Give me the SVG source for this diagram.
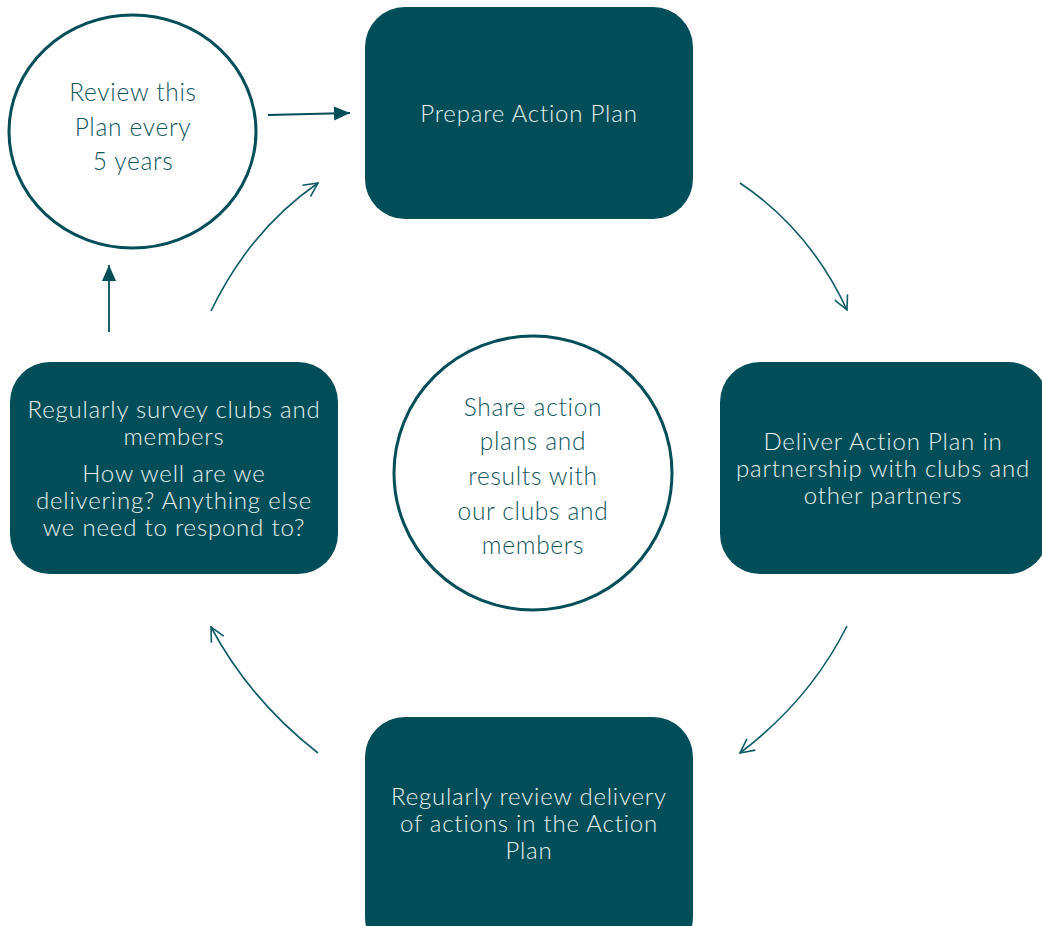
<svg xmlns="http://www.w3.org/2000/svg" width="1042" height="926" viewBox="0 0 1042 926">
<style>
.box{fill:#014d58;}
.ring{fill:#ffffff;stroke:#014d58;stroke-width:3;}
.bt{font-family:Lato,"Open Sans",sans-serif;font-size:24px;letter-spacing:0.8px;font-weight:300;fill:#e6f0f0;text-anchor:middle;dominant-baseline:central;}
.ct{font-family:Lato,"Open Sans",sans-serif;font-size:24.5px;letter-spacing:0.7px;font-weight:300;fill:#0e5660;text-anchor:middle;dominant-baseline:central;}
.thin{fill:none;stroke:#0f5c66;stroke-width:1.6;}
.solid{fill:none;stroke:#014d58;stroke-width:1.8;}
</style>
<defs>
<marker id="open" viewBox="0 0 16 16" refX="15" refY="8" markerWidth="16" markerHeight="16" markerUnits="userSpaceOnUse" orient="auto">
<path d="M1,1 L15,8 L1,15" fill="none" stroke="#0f5c66" stroke-width="1.6"/>
</marker>
<marker id="fill" viewBox="0 0 16 16" refX="16" refY="8" markerWidth="16" markerHeight="16" markerUnits="userSpaceOnUse" orient="auto">
<path d="M0,1 L16,8 L0,15 Z" fill="#014d58"/>
</marker>
</defs>
<rect width="1042" height="926" fill="#ffffff"/>
<g id="review-circle">
<ellipse class="ring" cx="132.5" cy="131.5" rx="123.5" ry="116.5"/>
<text class="ct" x="133" y="91">Review this</text>
<text class="ct" x="133" y="126">Plan every</text>
<text class="ct" x="133" y="160">5 years</text>
</g>
<g id="prepare">
<rect class="box" x="365" y="7" width="328" height="212" rx="40"/>
<text class="bt" x="529" y="112">Prepare Action Plan</text>
</g>
<g id="deliver">
<rect class="box" x="720" y="362" width="328" height="212" rx="40"/>
<text class="bt" x="883" y="440">Deliver Action Plan in</text>
<text class="bt" x="883" y="467">partnership with clubs and</text>
<text class="bt" x="883" y="494">other partners</text>
</g>
<g id="review-delivery">
<rect class="box" x="365" y="717" width="328" height="240" rx="40"/>
<text class="bt" x="529" y="795">Regularly review delivery</text>
<text class="bt" x="529" y="822">of actions in the Action</text>
<text class="bt" x="529" y="849">Plan</text>
</g>
<g id="survey">
<rect class="box" x="10" y="362" width="328" height="212" rx="40"/>
<text class="bt" x="174" y="408">Regularly survey clubs and</text>
<text class="bt" x="174" y="435">members</text>
<text class="bt" x="174" y="472">How well are we</text>
<text class="bt" x="174" y="499">delivering? Anything else</text>
<text class="bt" x="174" y="526">we need to respond to?</text>
</g>
<g id="share-circle">
<ellipse class="ring" cx="533" cy="473" rx="139" ry="137"/>
<text class="ct" x="533" y="406">Share action</text>
<text class="ct" x="533" y="440">plans and</text>
<text class="ct" x="533" y="475">results with</text>
<text class="ct" x="533" y="510">our clubs and</text>
<text class="ct" x="533" y="544">members</text>
</g>
<g id="connectors">
<path class="solid" d="M268,115 L350,113" marker-end="url(#fill)"/>
<path class="solid" d="M109,332 L109,265" marker-end="url(#fill)"/>
<path class="thin" d="M211,311 Q250,230 318,183" marker-end="url(#open)"/>
<path class="thin" d="M740,183 Q810,230 847,310" marker-end="url(#open)"/>
<path class="thin" d="M847,626 Q810,700 740,753" marker-end="url(#open)"/>
<path class="thin" d="M318,753 Q250,700 211,627" marker-end="url(#open)"/>
</g>
</svg>
